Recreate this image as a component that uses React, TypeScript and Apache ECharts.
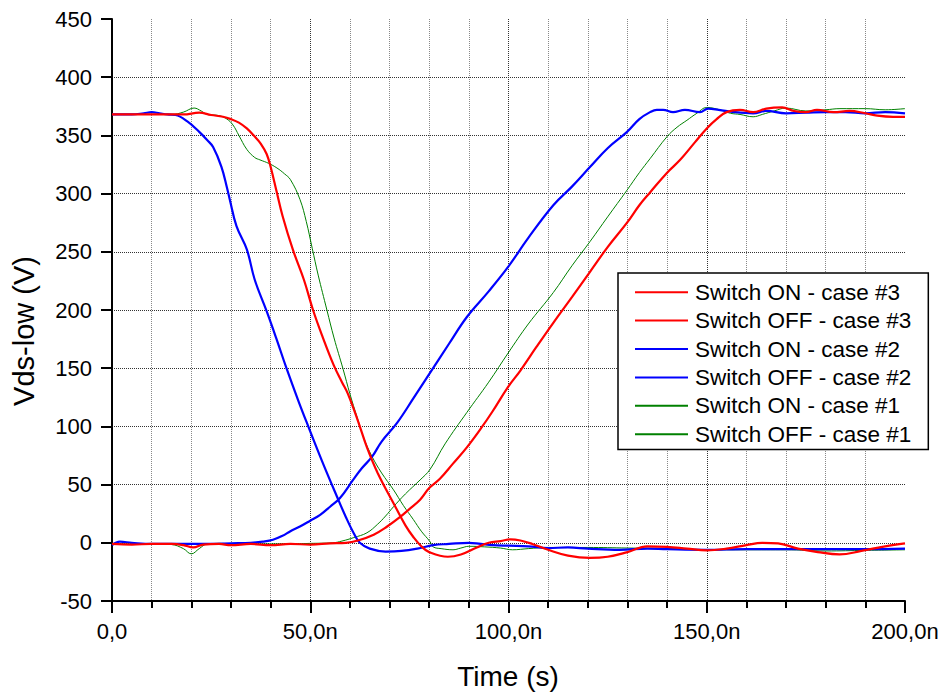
import React, { useEffect, useRef } from "react";
import * as echarts from "echarts";

const seriesNames = [
  "Switch ON - case #3",
  "Switch OFF - case #3",
  "Switch ON - case #2",
  "Switch OFF - case #2",
  "Switch ON - case #1",
  "Switch OFF - case #1",
];

const redOn: number[][] = [
  [0, 368], [10, 368], [18, 368], [22, 369.5], [25, 367.5], [28, 366], [30, 364], [32, 361], [34, 356],
  [36, 349], [37.5, 343], [39, 334], [40, 323], [41.5, 302], [43, 281], [45.6, 252], [48.4, 226],
  [50.7, 200], [53, 178], [56, 152], [58, 138], [59.5, 128], [62, 105], [64.3, 82], [67, 60], [71, 34],
  [74, 15], [76, 5], [78, -3], [80, -8], [84.7, -12], [88, -10], [92, -4], [95, 0], [98, 1.5],
  [100.5, 3], [103, 2], [106, -1], [110, -6], [115, -11], [120.5, -13], [125, -12], [130, -8],
  [135, -3], [140, -3.5], [145, -5], [150, -6.5], [155, -5], [160, -2], [164, 0], [168, -0.5],
  [173, -5], [178, -8], [183.5, -10], [189, -7], [195, -3], [200, -0.5],
];

const redOff: number[][] = [
  [0, -1], [5, -1.5], [10, -1], [15, -1], [18, -2], [20.5, -4], [23, -1.5], [27, -1], [30, -2],
  [35, -1], [40, -2], [45, -1], [50, -1.5], [55, -0.5], [59, 0], [62, 2], [66, 7], [69.4, 14],
  [72.6, 22], [75, 29], [77.7, 37], [80, 47], [82.7, 55], [86, 68], [89.5, 82], [93, 98], [96, 113],
  [99.9, 134], [103, 148], [107, 168], [111.3, 189], [116, 211], [120.6, 233], [125, 254],
  [129.9, 275], [133, 290], [135.7, 301], [140, 318], [143.3, 329], [147, 344], [150, 356],
  [152.5, 364], [155, 370], [158.4, 372], [161.7, 370], [165, 373], [169, 374], [172, 371],
  [175, 370], [177.8, 372], [182, 370], [186, 371], [190, 369], [193, 367], [197, 366], [200, 366],
];

const blueOn: number[][] = [
  [0, 368], [5, 368], [8, 369], [10, 370], [12, 369], [14, 368], [16, 367.5], [19, 362], [22, 353],
  [24, 346], [25.5, 340], [27.6, 323], [29, 305], [29.7, 295], [31.4, 272], [34, 252], [36, 226],
  [39, 199], [41.5, 175], [44, 150], [47, 122], [49.5, 100], [53, 70], [56.7, 40], [59, 22], [61, 8],
  [62.5, 0], [65, -5], [69, -7.5], [73, -7], [77, -5], [81, -2], [85, -1], [90, 0], [93, -1],
  [96, -2], [100, -2.5], [105, -3], [110, -4.5], [115, -4], [120, -5], [128, -6], [135, -5],
  [140, -5.5], [150, -6], [160, -5.5], [170, -5.5], [180, -5.5], [190, -5.5], [200, -5],
];

const blueOff: number[][] = [
  [0, -2], [2, 1], [5, 0], [10, -1], [15, -1], [20, -1], [25, -1], [30, -0.5], [35, 0], [38, 1],
  [40.6, 2.6], [43, 6], [45, 10], [47.4, 14], [50, 19], [52.5, 24], [55, 31], [57.5, 38.5],
  [60.8, 54], [63, 64], [65.6, 74], [68, 87], [71.9, 103], [76, 124], [80.2, 146], [85, 171],
  [89.5, 194], [95, 216], [99.9, 237], [105, 262], [111.3, 290], [116, 306], [120.6, 323],
  [125, 339], [129.9, 353], [133, 364], [135.7, 370], [137.4, 372], [139, 372], [141.5, 370],
  [144.5, 372], [148.3, 370], [150.3, 373], [153, 372], [157, 370], [161.7, 369], [165, 371],
  [170, 369], [175, 369.5], [180, 370], [185, 370], [190, 369], [195, 370], [200, 369],
];

const greenOn: number[][] = [
  [0, 368], [10, 368], [15, 368], [18, 370], [20.7, 373.5], [22.5, 371], [24, 368], [27, 367],
  [29, 364], [30.5, 359], [32, 350], [34, 338], [36, 331], [37.3, 329], [39.5, 326], [41.6, 322],
  [43.5, 317], [45, 312], [47.4, 295], [49, 276], [50.5, 253], [52, 230], [54.2, 200], [56, 176],
  [58.3, 149], [60, 128], [61.8, 108], [63.5, 90], [65.6, 74], [68, 60], [71, 45.5], [73.5, 32],
  [76, 20], [78, 10], [80.2, 1], [81, -3.5], [83, -5], [86, -6], [88, -4.5], [90, -3], [94, -3.5],
  [98, -4.5], [101, -6], [105, -5], [110, -4], [120, -4], [130, -4.5], [140, -5], [150, -6],
  [160, -6], [170, -6], [180, -7], [190, -6.5], [200, -6],
];

const greenOff: number[][] = [
  [0, -1], [5, -1], [10, -1], [15, -1.5], [18, -5], [20, -9.5], [22, -5], [24, -1], [28, -0.5],
  [30, -1.5], [35, -1], [40, -1], [45, -1], [50, -0.5], [55.7, 0], [58, 1.5], [61, 4.5], [64.3, 8.6],
  [67, 16], [69, 23], [71, 31], [74, 42], [77.7, 54], [80.2, 63], [84, 85], [89.5, 112], [95, 138],
  [99.9, 163], [105, 188], [111.3, 215], [116, 238], [120.6, 259], [125, 280], [129.9, 303],
  [133, 318], [135.7, 330], [140, 349], [142.5, 357], [145, 363], [147.5, 369], [150, 374],
  [153.3, 372], [156, 369], [158.4, 368], [161.7, 366], [164, 368], [167, 371], [170, 373.5],
  [175, 371], [180, 372], [183.6, 373], [190, 373], [195, 372], [200, 373],
];

const seriesData = [redOn, redOff, blueOn, blueOff, greenOn, greenOff];
const seriesColors = ["#ff0000", "#ff0000", "#0000ff", "#0000ff", "#008000", "#008000"];
const seriesWidths = [2.2, 2.2, 2.2, 2.2, 1, 1];

const FONT = "'Liberation Sans', Arial, sans-serif";

export default function App() {
  const ref = useRef<HTMLDivElement>(null);
  useEffect(() => {
    if (!ref.current) return;
    const chart = echarts.init(ref.current, null, { renderer: "svg" });
    chart.setOption({
      animation: false,
      backgroundColor: "#fff",
      grid: { left: 112, right: 40, top: 19, bottom: 93, containLabel: false },
      xAxis: {
        type: "value",
        min: 0,
        max: 200,
        interval: 50,
        axisLine: { show: true, onZero: false, lineStyle: { color: "#000", width: 2 } },
        axisTick: { show: true, inside: false, length: 12, lineStyle: { color: "#000", width: 2 } },
        minorTick: { show: true, splitNumber: 5, length: 7, lineStyle: { color: "#000", width: 2 } },
        splitLine: { show: true, showMaxLine: false, lineStyle: { type: "dotted", color: "#333", width: 1 } },
        minorSplitLine: { show: true, lineStyle: { type: "dotted", color: "#888", width: 1 } },
        axisLabel: {
          fontSize: 22,
          fontFamily: FONT,
          color: "#000",
          margin: 19,
          formatter: (v: number) => (v === 0 ? "0,0" : v.toFixed(1).replace(".", ",") + "n"),
        },
      },
      yAxis: {
        type: "value",
        min: -50,
        max: 450,
        interval: 50,
        axisLine: { show: true, onZero: false, lineStyle: { color: "#000", width: 2 } },
        axisTick: { show: true, inside: false, length: 11, lineStyle: { color: "#000", width: 2 } },
        splitLine: { show: true, showMaxLine: false, showMinLine: false, lineStyle: { type: "dotted", color: "#333", width: 1 } },
        axisLabel: { fontSize: 22, fontFamily: FONT, color: "#000", margin: 20 },
      },
      legend: {
        data: seriesNames,
        orient: "vertical",
        left: 618,
        top: 273,
        itemWidth: 53,
        itemHeight: 14,
        itemGap: 4,
        padding: [7, 17, 3, 16],
        borderColor: "#000",
        borderWidth: 1.5,
        borderRadius: 0,
        backgroundColor: "#fff",
        selectedMode: false,
        itemStyle: { opacity: 0 },
        textStyle: { fontSize: 22.5, fontFamily: FONT, color: "#000", lineHeight: 24.4, padding: [0, 0, 0, 2] },
      },
      graphic: [
        {
          type: "text",
          x: 508,
          y: 676,
          style: { text: "Time (s)", fontSize: 28, fontFamily: FONT, fill: "#000", align: "center", verticalAlign: "middle" },
        },
        {
          type: "text",
          x: 24,
          y: 331,
          rotation: Math.PI / 2,
          style: { text: "Vds-low (V)", fontSize: 29, fontFamily: FONT, fill: "#000", align: "center", verticalAlign: "middle" },
        },
      ],
      series: seriesNames.map((name, i) => ({
        name,
        type: "line",
        data: seriesData[i],
        symbol: "none",
        smooth: 0.4,
        color: seriesColors[i],
        lineStyle: { color: seriesColors[i], width: seriesWidths[i] },
        z: 10 - i,
      })),
    });
    return () => chart.dispose();
  }, []);
  return <div ref={ref} style={{ position: "absolute", left: 0, top: 0, width: 945, height: 694 }} />;
}
